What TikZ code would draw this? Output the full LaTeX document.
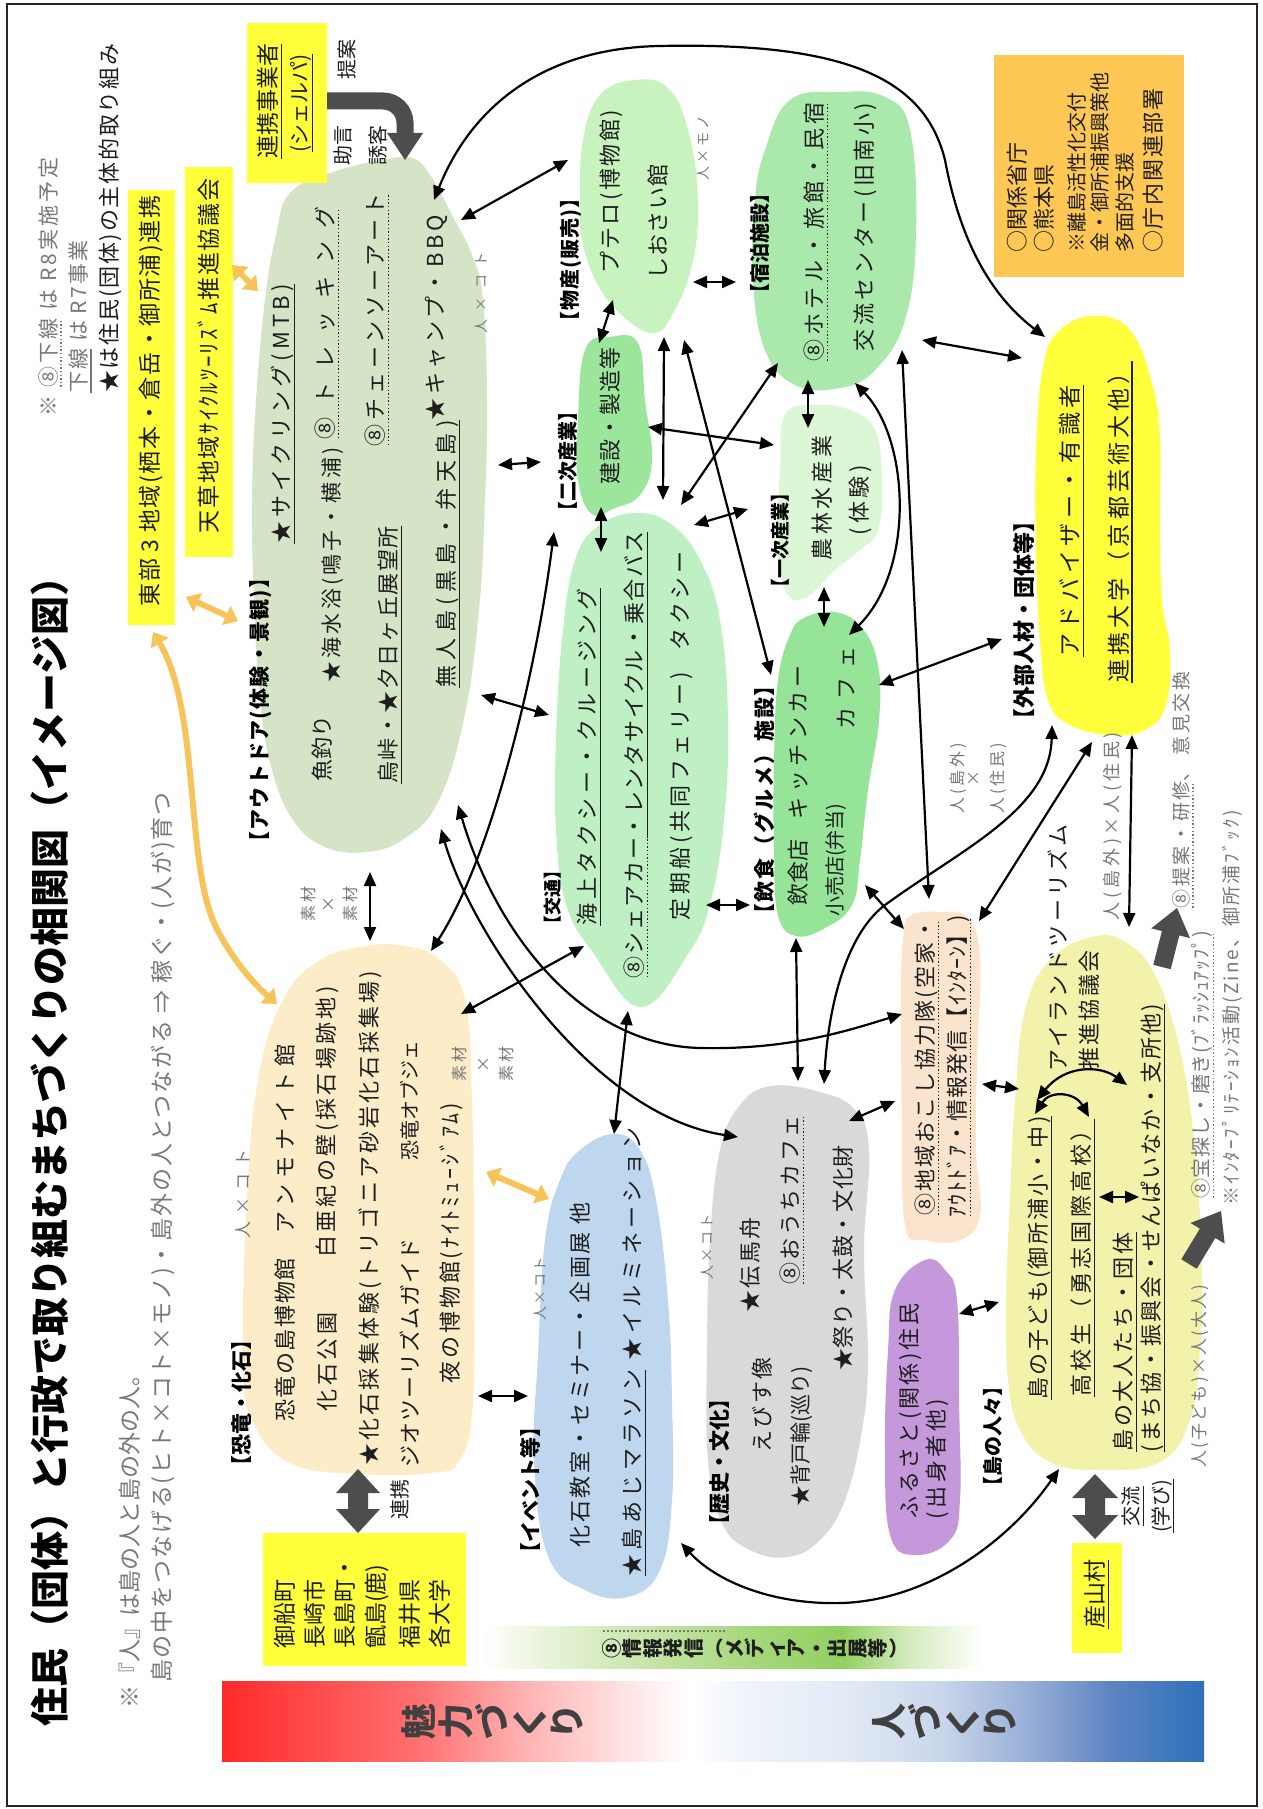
\documentclass[tikz,border=0pt]{standalone}
\usepackage{fontspec}
\setmainfont{Noto Sans CJK JP}
\usetikzlibrary{arrows.meta}
\newcommand\fs[1]{\fontsize{#1}{#1}\selectfont}
\newcommand\LS[2]{{\addfontfeatures{LetterSpace=#1}#2}}
\newsavebox\ulbox
\newcommand\sul[1]{\sbox\ulbox{#1}\leavevmode\rlap{\raisebox{-5.5pt}{\rule{\wd\ulbox}{1.2pt}}}\usebox\ulbox}
\newcommand\dul[1]{\sbox\ulbox{#1}\leavevmode\rlap{\raisebox{-5.5pt}{\hbox to\wd\ulbox{\leaders\hbox to 3.6pt{\hss\vrule height 1.4pt width 1.4pt\hss}\hfill}}}\usebox\ulbox}
\definecolor{txt}{RGB}{30,30,30}
\definecolor{gtxt}{RGB}{120,120,120}
\definecolor{sage}{RGB}{213,228,199}
\definecolor{cBussan}{RGB}{200,243,190}
\definecolor{cShuku}{RGB}{170,232,172}
\definecolor{cNiji}{RGB}{155,230,155}
\definecolor{cIchi}{RGB}{220,247,214}
\definecolor{cKotsu}{RGB}{190,240,196}
\definecolor{cInshoku}{RGB}{150,228,152}
\definecolor{cYellow}{RGB}{255,255,60}
\definecolor{cShima}{RGB}{243,242,170}
\definecolor{cChiiki}{RGB}{250,228,205}
\definecolor{cFuru}{RGB}{196,152,218}
\definecolor{cRekishi}{RGB}{217,217,217}
\definecolor{cEvent}{RGB}{190,214,238}
\definecolor{cKyoryu}{RGB}{252,236,200}
\definecolor{cOrange}{RGB}{255,200,85}
\definecolor{orarr}{RGB}{246,196,90}
\definecolor{dg}{RGB}{77,77,77}
\definecolor{barTxt}{RGB}{64,64,64}
\definecolor{gR0}{RGB}{255,42,42}
\definecolor{gR1}{RGB}{255,112,112}
\definecolor{gR2}{RGB}{255,176,176}
\definecolor{gR3}{RGB}{255,225,225}
\definecolor{gB0}{RGB}{238,243,250}
\definecolor{gB1}{RGB}{228,235,245}
\definecolor{gB2}{RGB}{200,213,234}
\definecolor{gB3}{RGB}{143,168,211}
\definecolor{gB4}{RGB}{92,133,194}
\definecolor{gB5}{RGB}{46,112,186}
\definecolor{gG1}{RGB}{230,242,214}
\definecolor{gG2}{RGB}{198,227,165}
\definecolor{gG3}{RGB}{166,215,122}
\definecolor{gG4}{RGB}{146,208,96}
\definecolor{gG5}{RGB}{212,235,190}
\pgfdeclarehorizontalshading{barshade}{100bp}{color(0bp)=(gR0); color(25bp)=(gR0); color(35bp)=(gR1); color(40.2bp)=(gR2); color(45.3bp)=(gR3); color(48.7bp)=(white); color(52.1bp)=(gB0); color(56.6bp)=(gB1); color(61.7bp)=(gB2); color(66.8bp)=(gB3); color(70.2bp)=(gB4); color(75bp)=(gB5); color(100bp)=(gB5)}
\pgfdeclarehorizontalshading{greenshade}{100bp}{color(0bp)=(white); color(25bp)=(white); color(32.3bp)=(gG1); color(42.3bp)=(gG2); color(52.2bp)=(gG3); color(61bp)=(gG4); color(67.7bp)=(gG5); color(75bp)=(white); color(100bp)=(white)}
\begin{document}
\begin{tikzpicture}[x=1pt,y=-1pt,
  jt/.style={rotate=90,inner sep=0pt,text=txt,font=\fs{22}},
  jb/.style={rotate=90,inner sep=0pt,text=black,font=\fs{20}\bfseries},
  js/.style={rotate=90,inner sep=0pt,text=gtxt,font=\fs{14}},
  arr/.style={line width=2.2pt,draw=black,{Triangle[length=14pt,width=12pt]}-{Triangle[length=14pt,width=12pt]}},
  oarr/.style={line width=6pt,draw=orarr,{Triangle[length=13pt,width=20pt]}-{Triangle[length=13pt,width=20pt]}},
  boxn/.style={inner sep=0pt,draw=none}]
\useasboundingbox (0,0) rectangle (1263,1809);
\fill[white] (0,0) rectangle (1263,1809);
\draw[line width=2pt,black!85] (7,4) rectangle (1257,1806);

% ---------- gradient bars ----------
\shade[shading=barshade] (222,1681) rectangle (1204,1761);
\shade[shading=greenshade] (481,1626) rectangle (982,1668);

% ---------- blobs ----------
\fill[sage] plot[smooth cycle,tension=0.7] coordinates {(290,193) (333,172) (383,160) (412,158) (430,175) (452,215) (472,255) (483,300) (487,400) (485,500) (479,610) (464,719) (438,802) (405,838) (367,852) (325,847) (293,820) (272,770) (260,700) (254,600) (252,500) (256,400) (265,300) (276,235)};
\fill[cBussan] plot[smooth cycle,tension=0.7] coordinates {(580,200) (583,140) (600,95) (635,80) (668,88) (688,130) (698,200) (692,265) (672,315) (654,333) (625,318) (598,285) (582,240)};
\fill[cShuku] plot[smooth cycle,tension=0.7] coordinates {(765,150) (790,100) (840,92) (885,97) (910,130) (916,233) (905,320) (875,370) (840,388) (795,385) (765,350) (753,280) (755,200)};
\fill[cNiji] plot[smooth cycle,tension=0.7] coordinates {(585,350) (610,337) (638,343) (645,400) (652,460) (640,495) (615,508) (592,514) (578,480) (578,420)};
\fill[cIchi] plot[smooth cycle,tension=0.7] coordinates {(785,415) (815,405) (850,410) (875,430) (882,480) (878,530) (860,550) (835,570) (805,598) (785,590) (778,540) (780,470)};
\fill[cKotsu] plot[smooth cycle,tension=0.7] coordinates {(638,513) (600,525) (575,560) (562,640) (556,740) (556,830) (566,904) (594,954) (641,1007) (688,954) (710,904) (724,820) (728,720) (720,620) (700,560) (672,525)};
\fill[cInshoku] plot[smooth cycle,tension=0.7] coordinates {(804,618) (835,612) (862,628) (878,665) (879,720) (868,790) (860,860) (852,905) (825,928) (796,936) (778,915) (774,850) (774,760) (778,680) (790,635)};
\fill[cYellow] plot[smooth cycle,tension=0.7] coordinates {(1095,316) (1060,330) (1043,367) (1036,452) (1036,552) (1040,640) (1048,700) (1070,725) (1110,735) (1145,730) (1166,705) (1170,650) (1162,600) (1160,520) (1160,440) (1152,383) (1130,330)};
\fill[cShima] plot[smooth cycle,tension=0.7] coordinates {(1092,937) (1050,960) (1025,1010) (1015,1100) (1010,1200) (1006,1300) (1008,1380) (1020,1430) (1050,1462) (1100,1470) (1160,1462) (1190,1420) (1200,1350) (1202,1270) (1195,1150) (1180,1050) (1155,975) (1125,942)};
\fill[cChiiki] plot[smooth cycle,tension=0.7] coordinates {(910,916) (940,912) (968,918) (980,960) (977,1060) (976,1150) (980,1215) (960,1240) (925,1240) (905,1225) (902,1120) (901,1000) (903,940)};
\fill[cFuru] plot[smooth cycle,tension=0.7] coordinates {(925,1260) (945,1270) (957,1300) (959,1400) (960,1500) (950,1540) (915,1555) (890,1535) (885,1450) (888,1350) (895,1290)};
\fill[cRekishi] plot[smooth cycle,tension=0.7] coordinates {(771,1086) (820,1092) (855,1110) (869,1150) (864,1250) (868,1360) (862,1430) (845,1500) (820,1540) (788,1557) (750,1550) (722,1523) (708,1460) (707,1350) (710,1240) (720,1150) (740,1105)};
\fill[cEvent] plot[smooth cycle,tension=0.7] coordinates {(614,1134) (580,1150) (560,1180) (545,1240) (538,1356) (534,1460) (548,1556) (585,1590) (628,1597) (660,1570) (672,1500) (672,1400) (668,1300) (656,1200) (640,1150)};
\fill[cKyoryu] plot[smooth cycle,tension=0.7] coordinates {(367,946) (320,960) (283,1000) (258,1080) (247,1200) (243,1356) (252,1420) (290,1463) (360,1474) (430,1473) (460,1460) (473,1400) (474,1250) (472,1100) (465,1000) (440,960) (405,946)};

% ---------- boxes ----------
\node[boxn,fill=cYellow,minimum width=80pt,minimum height=160pt] (shelpa) at (287,103) {};
\node[boxn,fill=cYellow,minimum width=48pt,minimum height=390pt] (amakusa) at (209,362) {};
\node[boxn,fill=cYellow,minimum width=47pt,minimum height=435pt] (tobu) at (151.5,407.5) {};
\node[boxn,fill=cYellow,minimum width=203pt,minimum height=133pt] (mifune) at (364.5,1599.5) {};
\node[boxn,fill=cYellow,minimum width=50pt,minimum height=110pt] (ubuyama) at (1097,1598) {};
\node[boxn,fill=cOrange,minimum width=190pt,minimum height=222pt] (gov) at (1089,166) {};

% ---------- dark grey block arrows ----------
\draw[line width=17pt,dg,rounded corners=22pt] (shelpa.east |- 0,101) -| (405,135);
\fill[dg] (387,133) -- (423,133) -- (405,160) -- cycle;
\fill[dg] (358,1469) -- (380,1493) -- (368,1493) -- (368,1509) -- (380,1509) -- (358,1533) -- (336,1509) -- (348,1509) -- (348,1493) -- (336,1493) -- cycle;
\fill[dg] (1095,1474) -- (1118,1498) -- (1105,1498) -- (1105,1515) -- (1118,1515) -- (1095,1539) -- (1072,1515) -- (1085,1515) -- (1085,1498) -- (1072,1498) -- cycle;
\fill[dg] (1153.3,964.8) -- (1161.9,931.0) -- (1151.2,928.3) -- (1177,908) -- (1190.0,938.1) -- (1179.3,935.4) -- (1170.7,969.2) -- cycle;
\fill[dg] (1181.3,1259.3) -- (1199.9,1228.6) -- (1190.5,1223.0) -- (1221,1211) -- (1224.7,1243.6) -- (1215.3,1238.0) -- (1196.7,1268.7) -- cycle;

% ---------- connector end points ----------
\coordinate (A1) at (461,220); \coordinate (A2) at (568,160);
\coordinate (B1) at (434,200); \coordinate (B2) at (1045,337);
\coordinate (C1) at (693,282); \coordinate (C2) at (736,282);
\coordinate (D1) at (613,300); \coordinate (D2) at (599,343);
\coordinate (E1) at (664,337); \coordinate (E2) at (663,500);
\coordinate (F1) at (684,340); \coordinate (F2) at (771,675);
\coordinate (G1) at (648,427); \coordinate (G2) at (774,445);
\coordinate (H1) at (778,363); \coordinate (H2) at (681,505);
\coordinate (I1) at (808,380); \coordinate (I2) at (808,428);
\coordinate (J1) at (694,525); \coordinate (J2) at (748,509);
\coordinate (K1) at (601,507); \coordinate (K2) at (601,552);
\coordinate (L1) at (824,587); \coordinate (L2) at (824,627);
\coordinate (M1) at (498,465); \coordinate (M2) at (541,462);
\coordinate (N1) at (481,695); \coordinate (N2) at (549,715);
\coordinate (O1) at (554,532); \coordinate (O2) at (431,951);
\coordinate (P1) at (441,829); \coordinate (P2) at (738,1137);
\coordinate (Q1) at (458,805); \coordinate (Q2) at (902,1014);
\coordinate (R1) at (461,1014); \coordinate (R2) at (584,946);
\coordinate (S1) at (628,1011); \coordinate (S2) at (614,1134);
\coordinate (T1) at (796,938); \coordinate (T2) at (798,1081);
\coordinate (U1) at (1052,725); \coordinate (U2) at (824,1084);
\coordinate (V1) at (922,340); \coordinate (V2) at (1022,358);
\coordinate (W1) at (855,383); \coordinate (W2) at (849,635);
\coordinate (X1) at (902,350); \coordinate (X2) at (929,899);
\coordinate (Y1) at (879,685); \coordinate (Y2) at (1002,639);
\coordinate (Z1) at (1092,742); \coordinate (Z2) at (979,921);
\coordinate (AA1) at (1132,735); \coordinate (AA2) at (1129,927);
\coordinate (AB1) at (865,885); \coordinate (AB2) at (904,929);
\coordinate (AC1) at (959,1314); \coordinate (AC2) at (999,1302);
\coordinate (AD1) at (982,1084); \coordinate (AD2) at (1019,1089);
\coordinate (AE1) at (849,1121); \coordinate (AE2) at (895,1101);
\coordinate (AF1) at (1037,1100); \coordinate (AF2) at (1127,1085);
\coordinate (AG1) at (1035,1114); \coordinate (AG2) at (1089,1117);
\coordinate (AH1) at (1099,1197); \coordinate (AH2) at (1139,1197);
\coordinate (AI1) at (1059,1469); \coordinate (AI2) at (681,1543);
\coordinate (AJ1) at (478,1396); \coordinate (AJ2) at (528,1396);
\coordinate (AK1) at (370,872); \coordinate (AK2) at (370,941);
\coordinate (AL1) at (706,905); \coordinate (AL2) at (750,905);
\coordinate (OA1) at (153,632); \coordinate (OA2) at (277,1004);
\coordinate (OB1) at (186,597); \coordinate (OB2) at (238,621);
\coordinate (OC1) at (232,265); \coordinate (OC2) at (258,291);
\coordinate (OD1) at (486,1172); \coordinate (OD2) at (549,1199);

% ---------- black connectors ----------
\draw[arr] (A1) -- (A2);
\draw[arr] (B1) .. controls (470,110) and (540,48) .. (660,46) .. controls (850,42) and (925,80) .. (945,160) .. controls (960,240) and (990,295) .. (B2);
\draw[arr] (C1) -- (C2);
\draw[arr] (D1) -- (D2);
\draw[arr] (E1) -- (E2);
\draw[arr] (F1) -- (F2);
\draw[arr] (G1) -- (G2);
\draw[arr] (H1) -- (H2);
\draw[arr] (I1) -- (I2);
\draw[arr] (J1) -- (J2);
\draw[arr] (K1) -- (K2);
\draw[arr] (L1) -- (L2);
\draw[arr] (M1) -- (M2);
\draw[arr] (N1) -- (N2);
\draw[arr] (O1) .. controls (535,680) and (490,860) .. (O2);
\draw[arr] (P1) .. controls (470,930) and (590,1115) .. (P2);
\draw[arr] (Q1) .. controls (495,930) and (580,1045) .. (700,1048) .. controls (790,1050) and (850,1030) .. (Q2);
\draw[arr] (R1) -- (R2);
\draw[arr] (S1) -- (S2);
\draw[arr] (T1) -- (T2);
\draw[arr] (U1) .. controls (1050,810) and (960,850) .. (885,905) .. controls (845,935) and (828,1010) .. (U2);
\draw[arr] (V1) -- (V2);
\draw[arr] (W1) .. controls (910,440) and (915,570) .. (W2);
\draw[arr] (X1) -- (X2);
\draw[arr] (Y1) -- (Y2);
\draw[arr] (Z1) -- (Z2);
\draw[arr] (AA1) -- (AA2);
\draw[arr] (AB1) -- (AB2);
\draw[arr] (AC1) -- (AC2);
\draw[arr] (AD1) -- (AD2);
\draw[arr] (AE1) -- (AE2);
\draw[arr] (AF1) .. controls (1065,1065) and (1100,1065) .. (AF2);
\draw[arr] (AG1) .. controls (1050,1090) and (1075,1092) .. (AG2);
\draw[arr] (AH1) -- (AH2);
\draw[arr] (AI1) .. controls (1010,1540) and (930,1600) .. (842,1603) .. controls (770,1605) and (715,1580) .. (AI2);
\draw[arr] (AJ1) -- (AJ2);
\draw[arr] (AK1) -- (AK2);
\draw[arr] (AL1) -- (AL2);

% ---------- orange connectors ----------
\draw[oarr] (OA1) .. controls (200,710) and (185,860) .. (215,925) .. controls (232,960) and (255,985) .. (OA2);
\draw[oarr] (OB1) -- (OB2);
\draw[oarr] (OC1) -- (OC2);
\draw[oarr] (OD1) -- (OD2);

% ---------- title & notes ----------
\node[rotate=90,inner sep=0pt,text=black,font=\fs{39}\bfseries] (title) at (50,1142) {住民（団体）と行政で取り組むまちづくりの相関図（イメージ図）};
\node[jt,anchor=west,text=gtxt,font=\fs{23}] (note1) at (130,1709) {※『人』は島の人と島の外の人。};
\node[jt,anchor=west,text=gtxt,font=\fs{23}] (note2) at (163,1683) {\LS{8}{島の中をつなげる(ヒト×コト×モノ)・島外の人とつながる ⇒ 稼ぐ・(人が)育つ}};
\node[jt,anchor=west,text=gtxt,font=\fs{21}] (tl1) at (50,417) {\LS{15}{※ \dul{⑧下線} は R8実施予定}};
\node[jt,anchor=west,text=gtxt,font=\fs{21}] (tl2) at (80,393) {\LS{10}{\sul{下線} は R7事業}};
\node[jt,anchor=west,font=\fs{22}] (tl3) at (110,393) {\LS{8}{★は住民(団体)の主体的取り組み}};

% ---------- box texts ----------
\node[jt,font=\fs{23}] (shelpa1) at (270,101) {\sul{連携事業者}};
\node[jt,font=\fs{21}] (shelpa2) at (302,103) {\sul{(シェルパ)}};
\node[jt,font=\fs{20}] (teian) at (347,60) {提案};
\node[jt,font=\fs{20}] (jogen) at (343,145) {助言};
\node[jt,font=\fs{20}] (yukyaku) at (378,145) {誘客};
\node[jt,font=\fs{23}] (amakusaT) at (209,356) {\LS{8}{天草地域ｻｲｸﾙﾂｰﾘｽﾞﾑ推進協議会}};
\node[jt,font=\fs{23}] (tobuT) at (151,401) {\LS{7}{東部 3 地域(栖本・倉岳・御所浦)連携}};
\node[jt,anchor=west,font=\fs{23}] (mf1) at (285,1649) {御船町};
\node[jt,anchor=west,font=\fs{23}] (mf2) at (315,1649) {長崎市};
\node[jt,anchor=west,font=\fs{23}] (mf3) at (345,1649) {長島町・};
\node[jt,anchor=west,font=\fs{23}] (mf4) at (377,1649) {甑島(鹿)};
\node[jt,anchor=west,font=\fs{23}] (mf5) at (410,1649) {福井県};
\node[jt,anchor=west,font=\fs{23}] (mf6) at (440,1649) {各大学};
\node[jt,font=\fs{20}] (renkei) at (400,1499) {連携};
\node[jt,font=\fs{23}] (ubuT) at (1097,1594) {\sul{産山村}};
\node[jt,font=\fs{20}] (koryu1) at (1133,1506) {\sul{交流}};
\node[jt,font=\fs{20}] (koryu2) at (1163,1506) {\sul{(学び)}};
\node[jt,anchor=west,font=\fs{22}] (gv1) at (1017,253) {○関係省庁};
\node[jt,anchor=west,font=\fs{22}] (gv2) at (1044,253) {○熊本県};
\node[jt,anchor=west,font=\fs{20}] (gv3) at (1077,253) {※離島活性化交付};
\node[jt,anchor=west,font=\fs{20}] (gv4) at (1100,253) {金・御所浦振興策他};
\node[jt,anchor=west,font=\fs{20}] (gv5) at (1125,253) {多面的支援};
\node[jt,anchor=west,font=\fs{22}] (gv6) at (1153,253) {\LS{8}{○庁内関連部署}};

% ---------- outdoor ----------
\node[jb,font=\fs{21}\bfseries] (outL) at (261,710) {\LS{6}{【アウトドア(体験・景観)】}};
\node[jt] (out1) at (283,414) {\LS{19}{\sul{★サイクリング(MTB)}}};
\node[jt] (out2) at (322,748) {魚釣り};
\node[jt,font=\fs{21}] (out3) at (333,565) {\LS{15}{★海水浴(鳴子・横浦)}};
\node[jt] (out4) at (327,323) {\LS{60}{\dul{⑧トレッキング}}};
\node[jt] (out5) at (390,655) {\LS{7}{\sul{烏峠・★夕日ヶ丘展望所}}};
\node[jt] (out6) at (377,320) {\LS{18}{\dul{⑧チェーンソーアート}}};
\node[jt] (out7) at (436,318) {\LS{16}{★キャンプ・BBQ}};
\node[jt] (out8) at (448,554) {\LS{25}{\sul{無人島(黒島・弁天島)}}};
\node[js] (out9) at (481,293) {\LS{60}{人×コト}};
\node[js,font=\fs{16}] (sz1) at (308,904) {\LS{20}{素材}};
\node[js,font=\fs{16}] (sz2) at (329,904) {×};
\node[js,font=\fs{16}] (sz3) at (350,904) {\LS{20}{素材}};

% ---------- bussan / shukuhaku / sangyo ----------
\node[jb] (busL) at (571,260) {\LS{5}{【物産(販売)】}};
\node[jt] (bus1) at (611,192) {\LS{11}{プテロ(博物館)}};
\node[jt] (bus2) at (658,222) {\LS{6}{しおさい館}};
\node[js] (bus3) at (703,148) {\LS{20}{人×モノ}};
\node[jb] (shuL) at (760,243) {【宿泊施設】};
\node[jt] (shu1) at (816,232) {\LS{20}{\dul{⑧ホテル・旅館・民宿}}};
\node[jt] (shu2) at (865,227) {\LS{16}{交流センター(旧南小)}};
\node[jb] (nijiL) at (568,461) {【二次産業】};
\node[jt] (niji1) at (610,416) {\LS{4}{建設・製造等}};
\node[jb,font=\fs{19}\bfseries] (ichiL) at (780,540) {【一次産業】};
\node[jt] (ichi1) at (822,498) {\LS{17}{農林水産業}};
\node[jt] (ichi2) at (860,500) {\LS{18}{(体験)}};

% ---------- kotsu / inshoku ----------
\node[jb,font=\fs{18}\bfseries] (kotL) at (553,897) {【交通】};
\node[jt] (kot1) at (589,757) {\LS{20}{\sul{海上タクシー・クルージング}}};
\node[jt] (kot2) at (636,755) {\LS{8}{\dul{⑧シェアカー}\sul{・レンタサイクル・乗合バス}}};
\node[jt] (kot3) at (681,736) {\LS{16}{定期船(共同フェリー)\quad タクシー}};
\node[jb,font=\fs{21}\bfseries] (inL) at (764,800) {\LS{9}{【飲食（グルメ）施設】}};
\node[jt] (in1) at (798,785) {飲食店\hspace{20pt}\LS{20}{キッチンカー}};
\node[jt,font=\fs{20}] (in2) at (836,860) {小売店(弁当)};
\node[jt] (in3) at (846,688) {\LS{40}{カフェ}};
\node[js,font=\fs{16}] (sh1) at (958,778) {\LS{18}{人(島外)}};
\node[js,font=\fs{16}] (sh2) at (974,778) {×};
\node[js,font=\fs{16}] (sh3) at (998,778) {\LS{18}{人(住民)}};

% ---------- gaibu ----------
\node[jb,font=\fs{22}\bfseries] (gaiL) at (1024,620) {【外部人材・団体等】};
\node[jt,font=\fs{23}] (gai1) at (1072,521) {\LS{20}{\sul{アドバイザー・有識者}}};
\node[jt,font=\fs{23}] (gai2) at (1120,522) {\LS{18}{\sul{連携大学（京都芸術大他）}}};

% ---------- chiiki okoshi ----------
\node[jt] (chi1) at (927,1067) {\LS{10}{\dul{⑧地域おこし協力隊(空家・}}};
\node[jt] (chi2) at (959,1066) {\LS{5}{\dul{ｱｳﾄﾄﾞｱ・情報発信【ｲﾝﾀｰﾝ】)}}};

% ---------- shima no hitobito ----------
\node[jb] (shiL) at (993,1436) {【島の人々】};
\node[jt] (shi1) at (1040,1258) {\LS{10}{\sul{島の子ども(御所浦小・中)}}};
\node[jt] (shi2) at (1083,1258) {\LS{16}{\sul{高校生（勇志国際高校）}}};
\node[jt] (shi3) at (1125,1342) {\LS{12}{\sul{島の大人たち・団体}}};
\node[jt] (shi4) at (1153,1228) {\LS{9}{\sul{(まち協・振興会・せんぱいなか・支所他)}}};
\node[jt] (shi5) at (1058,948) {\LS{14}{アイランドツーリズム}};
\node[jt] (shi7) at (1089,1010) {\LS{10}{推進協議会}};
\node[js,font=\fs{17}] (shi8) at (1200,1376) {\LS{13}{人(子ども)×人(大人)}};
\node[js,font=\fs{20}] (shi9) at (1203,1065) {\LS{4}{\dul{⑧宝探し・磨き(ﾌﾞﾗｯｼｭｱｯﾌﾟ)}}};
\node[js,font=\fs{19}] (shi10) at (1232,1008) {\LS{11}{※ｲﾝﾀｰﾌﾟﾘﾃｰｼｮﾝ活動(Zine、御所浦ﾌﾞｯｸ)}};
\node[js,font=\fs{19}] (shi11) at (1183,790) {\LS{14}{\dul{⑧提案・研修}、 意見交換}};
\node[js,font=\fs{18}] (shi12) at (1113,826) {\LS{21}{人(島外)×人(住民)}};

% ---------- rekishi ----------
\node[jb,font=\fs{21}\bfseries] (rekL) at (720,1462) {【歴史・文化】};
\node[js] (rek0) at (707,1247) {\LS{20}{人×コト}};
\node[jt] (rek1) at (750,1265) {\LS{10}{★伝馬舟}};
\node[jt] (rek2) at (762,1405) {\LS{10}{えびす像}};
\node[jt] (rek3) at (792,1200) {\LS{12}{\dul{⑧おうちカフェ}}};
\node[jt,font=\fs{21}] (rek4) at (802,1436) {★背戸輪(巡り)};
\node[jt] (rek5) at (843,1258) {\LS{3}{★祭り・太鼓・文化財}};

% ---------- furusato ----------
\node[jt] (fur1) at (910,1411) {\LS{12}{ふるさと(関係)住民}};
\node[jt] (fur2) at (937,1459) {\LS{16}{(出身者他)}};

% ---------- event ----------
\node[jb,font=\fs{21}\bfseries] (evL) at (530,1490) {【イベント等】};
\node[js] (ev0) at (540,1289) {\LS{15}{人×コト}};
\node[jt] (ev1) at (580,1375) {\LS{11}{化石教室・セミナー・企画展 他}};
\node[jt] (ev2) at (634,1352) {\LS{20}{\sul{★島あじマラソン} ★イルミネーション}};

% ---------- kyoryu ----------
\node[jb,font=\fs{21}\bfseries] (kyoL) at (242,1403) {【恐竜・化石】};
\node[js,font=\fs{17}] (kyo0) at (243,1194) {\LS{40}{人×コト}};
\node[jt] (kyo1) at (285,1340) {\LS{7}{恐竜の島博物館}};
\node[jt] (kyo2) at (285,1139) {\LS{27}{アンモナイト館}};
\node[jt] (kyo3) at (327,1362) {\LS{17}{化石公園}};
\node[jt] (kyo4) at (327,1122) {\LS{15}{白亜紀の壁(採石場跡地)}};
\node[jt] (kyo5) at (370,1218) {\LS{14}{★化石採集体験(トリゴニア砂岩化石採集場)}};
\node[jt] (kyo6) at (410,1353) {\LS{5}{ジオツーリズムガイド}};
\node[jt,font=\fs{20}] (kyo7) at (410,1100) {恐竜オブジェ};
\node[jt] (kyo8) at (451,1243) {\LS{13}{夜の博物館(ﾅｲﾄﾐｭｰｼﾞｱﾑ)}};
\node[js,font=\fs{16}] (sz4) at (459,1064) {\LS{20}{素材}};
\node[js,font=\fs{16}] (sz5) at (484,1064) {×};
\node[js,font=\fs{16}] (sz6) at (506,1064) {\LS{20}{素材}};

% ---------- bar texts ----------
\node[rotate=90,inner sep=0pt,align=center,text=barTxt,font=\fontsize{36}{37}\selectfont\bfseries] (miryoku) at (492,1721) {魅\\力\\づ\\く\\り};
\node[rotate=90,inner sep=0pt,align=center,text=barTxt,font=\fontsize{36}{37}\selectfont\bfseries] (hito) at (944,1721) {人\\づ\\く\\り};
\node[rotate=90,inner sep=0pt,align=center,text=txt,font=\fontsize{20}{20.5}\selectfont\bfseries] (joho) at (754,1648) {⑧\\情\\報\\発\\信\\︵\\メ\\デ\\ィ\\ア\\・\\出\\展\\等\\︶};
\draw[line width=1.6pt,dash pattern=on 1.6pt off 2.4pt,gtxt] (603,1631) -- (726,1631);
\end{tikzpicture}
\end{document}
